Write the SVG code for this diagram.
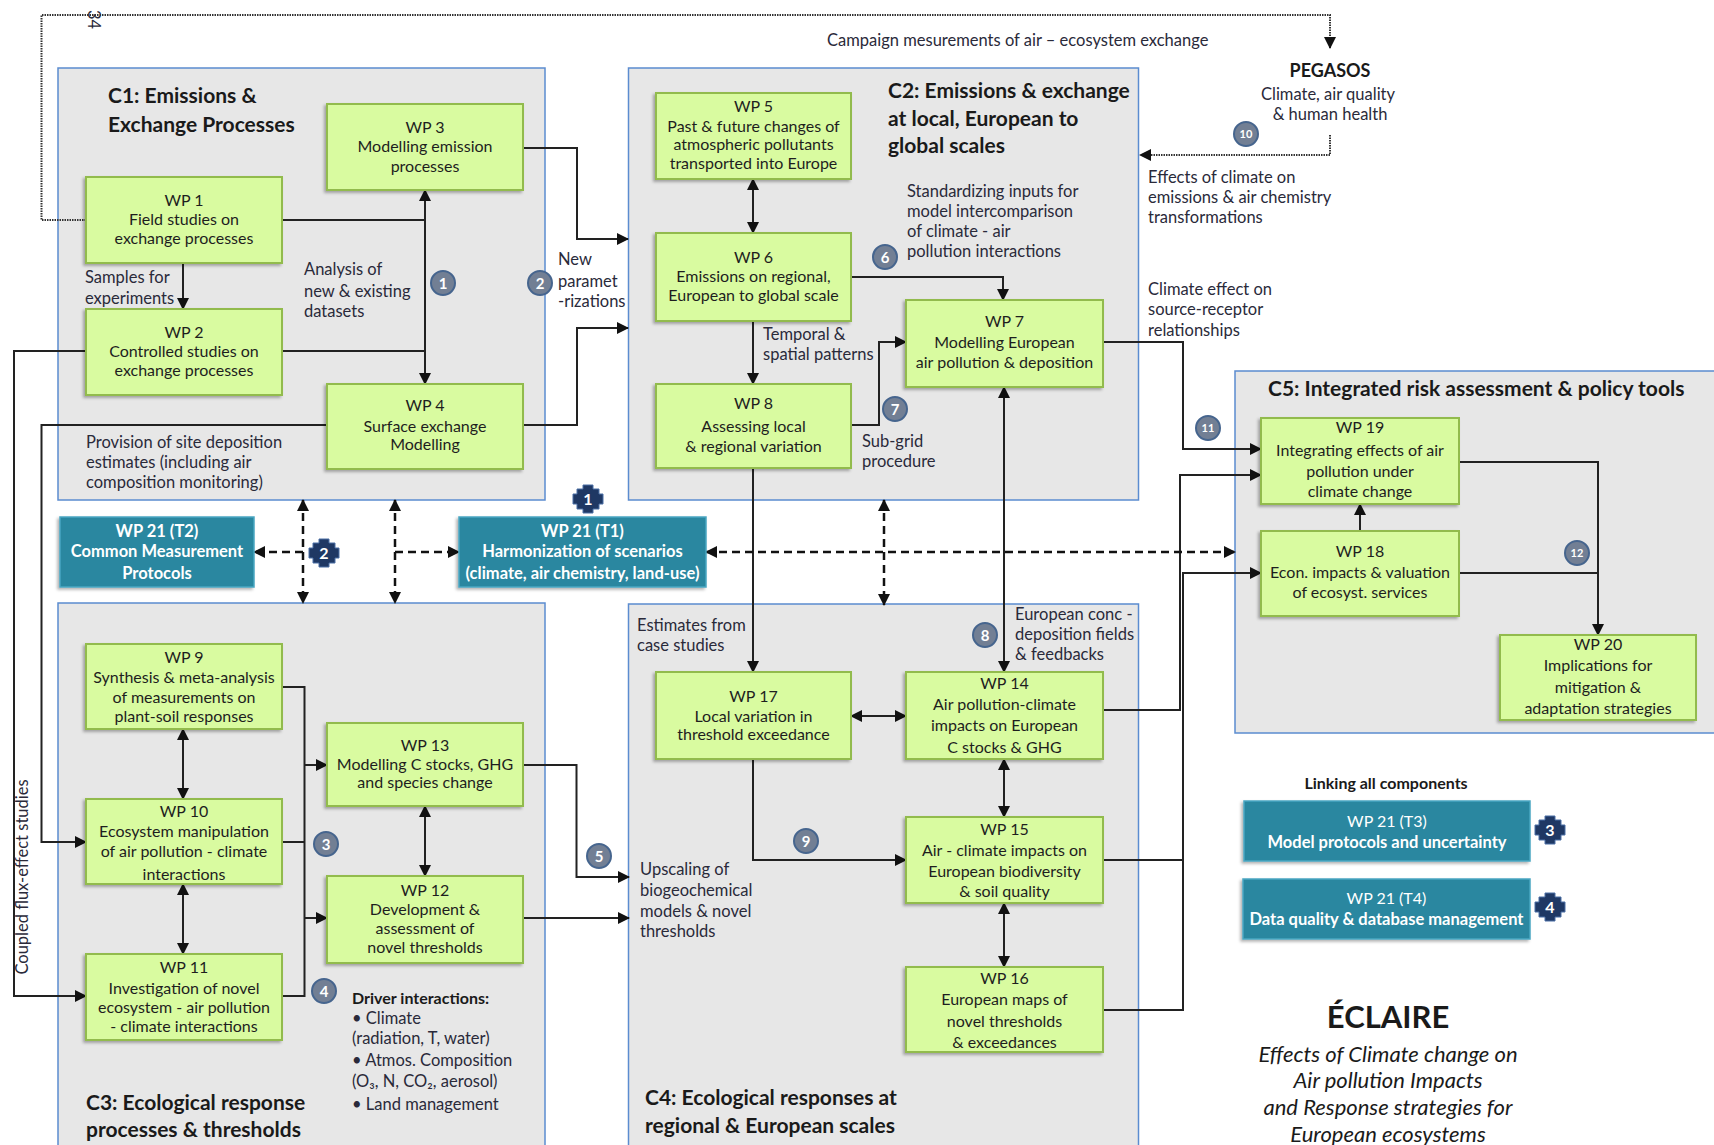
<svg xmlns="http://www.w3.org/2000/svg" width="1714" height="1145" viewBox="0 0 1714 1145">
<defs>
<style>
.cont{fill:#e7e7e7;stroke:#5b8cd0;stroke-width:1.5}
.wp{fill:#d9fba0;stroke:#92bb4e;stroke-width:2;filter:url(#sh)}
.t21{fill:#2a87a0;stroke:#49a7c2;stroke-width:1.5;filter:url(#sh)}
.nt{font-family:Lato,"Liberation Sans",sans-serif;font-size:16px;fill:#1e1e1e;text-anchor:middle}
.tt{font-family:Lato,"Liberation Sans",sans-serif;font-size:16.5px;fill:#fff;font-weight:bold;text-anchor:middle}
.ttr{font-family:Lato,"Liberation Sans",sans-serif;font-size:16px;fill:#fff;text-anchor:middle}
.lb{font-family:Lato,"Liberation Sans",sans-serif;font-size:16.5px;fill:#2a2a3a}
.ti{font-family:Lato,"Liberation Sans",sans-serif;font-size:21px;font-weight:bold;fill:#1a1a1a}
.bd{font-family:Lato,"Liberation Sans",sans-serif;font-weight:bold;fill:#1a1a1a}
.it{font-family:Lato,"Liberation Sans",sans-serif;font-size:22px;font-style:italic;fill:#1a1a1a;text-anchor:middle}
.ln{fill:none;stroke:#222;stroke-width:2}
.ae{marker-end:url(#ah)}
.ab{marker-end:url(#ah);marker-start:url(#ah)}
.dot{fill:none;stroke:#333;stroke-width:2;stroke-dasharray:1.5 1}
.dsh{fill:none;stroke:#111;stroke-width:2.5;stroke-dasharray:8 5}
.bc{fill:#727f94;stroke:#46658e;stroke-width:2}
.bn{font-family:Lato,"Liberation Sans",sans-serif;font-weight:bold;fill:#fff;text-anchor:middle}
</style>
<filter id="sh" x="-10%" y="-10%" width="120%" height="125%">
<feDropShadow dx="-2" dy="2" stdDeviation="1.5" flood-color="#000" flood-opacity="0.3"/>
</filter>
<marker id="ah" viewBox="0 0 12 12" refX="11" refY="6" markerWidth="12" markerHeight="12" markerUnits="userSpaceOnUse" orient="auto-start-reverse">
<path d="M0,0 L12,6 L0,12 z" fill="#111"/>
</marker>
<path id="pzl" d="M-11,-10 H-5 V-14 H5 V-10 H11 V-5 H15 V5 H11 V10 H5 V14 H-5 V10 H-11 V5 H-15 V-5 H-11 Z" fill="#1f3864" stroke="#4a6fa5" stroke-width="1" stroke-linejoin="round"/>
</defs>
<rect width="1714" height="1145" fill="#fff"/>

<!-- containers -->
<g id="C1"><rect class="cont" x="58" y="68" width="487" height="432"/>
<text class="ti" x="108" y="103">C1: Emissions &amp;</text>
<text class="ti" x="108" y="132">Exchange Processes</text></g>
<g id="C2"><rect class="cont" x="628.5" y="68" width="510" height="432"/>
<text class="ti" x="888" y="98">C2: Emissions &amp; exchange</text>
<text class="ti" x="888" y="126">at local, European  to</text>
<text class="ti" x="888" y="153">global scales</text></g>
<g id="C3"><rect class="cont" x="58" y="603" width="487" height="560"/>
<text class="ti" x="86" y="1110">C3: Ecological response</text>
<text class="ti" x="86" y="1137">processes &amp; thresholds</text></g>
<g id="C4"><rect class="cont" x="628.5" y="604" width="510" height="560"/>
<text class="ti" x="645" y="1105">C4: Ecological responses at</text>
<text class="ti" x="645" y="1133">regional  &amp; European  scales</text></g>
<g id="C5"><rect class="cont" x="1235" y="371" width="490" height="362"/>
<text class="ti" x="1268" y="396">C5: Integrated risk assessment &amp; policy tools</text></g>

<!-- connectors -->
<g id="connectors">
<path class="dot ae" d="M86 220 H41.5 V15 H1330 V48"/>
<path class="dot ae" d="M1330 135 V155 H1140"/>
<path class="ln ae" d="M183 263 V309"/>
<path class="ln" d="M282 220 H425 M282 351 H425"/>
<path class="ln ab" d="M425 190 V384"/>
<path class="ln ae" d="M523 148 H577 V239 H628"/>
<path class="ln ae" d="M523 425 H577 V328 H628"/>
<path class="ln ae" d="M86 351 H14 V996 H86"/>
<path class="ln ae" d="M327 425 H41.5 V842 H86"/>
<path class="ln ab" d="M753 179 V233"/>
<path class="ln ae" d="M753 321 V384"/>
<path class="ln ae" d="M851 277 H1003 V300"/>
<path class="ln ae" d="M851 425 H879 V342 H906"/>
<path class="ln ae" d="M753 468 V672"/>
<path class="ln ab" d="M1004 387 V672"/>
<path class="ln ae" d="M1103 342 H1183 V449 H1261"/>
<path class="ln ae" d="M1103 710 H1180 V475 H1261"/>
<path class="ln ae" d="M1103 1010 H1183 V573 H1261"/>
<path class="ln" d="M1103 860 H1183"/>
<path class="ln ae" d="M1360 531 V504"/>
<path class="ln ae" d="M1459 462 H1598 V635"/>
<path class="ln" d="M1459 573 H1598"/>
<path class="ln" d="M282 687 H304.5 V996 H282 M282 842 H304.5"/>
<path class="ln ae" d="M304.5 765 H327"/>
<path class="ln ae" d="M304.5 918 H327"/>
<path class="ln ab" d="M183 729 V799"/>
<path class="ln ab" d="M183 884 V954"/>
<path class="ln ab" d="M425 806 V876"/>
<path class="ln ae" d="M523 765 H576.5 V877 H629"/>
<path class="ln ae" d="M523 918 H629"/>
<path class="ln ab" d="M851 716 H906"/>
<path class="ln ab" d="M1004 759 V817"/>
<path class="ln ab" d="M1004 903 V967"/>
<path class="ln ae" d="M753 759 V860 H906"/>
<path class="dsh ab" d="M303 500 V603"/>
<path class="dsh ab" d="M395 500 V603"/>
<path class="dsh ab" d="M884 500 V605"/>
<path class="dsh ae" d="M303 552 H254"/>
<path class="dsh ae" d="M395 552 H459"/>
<path class="dsh ab" d="M706 552 H1235"/>
</g>

<!-- nodes -->
<g id="WP1"><rect class="wp" x="86" y="177" width="196" height="86"/>
<text class="nt" x="184" y="206">WP 1</text><text class="nt" x="184" y="225">Field studies on</text><text class="nt" x="184" y="244">exchange processes</text></g>
<g id="WP2"><rect class="wp" x="86" y="309" width="196" height="86"/>
<text class="nt" x="184" y="338">WP 2</text><text class="nt" x="184" y="357">Controlled studies on</text><text class="nt" x="184" y="376">exchange processes</text></g>
<g id="WP3"><rect class="wp" x="327" y="104" width="196" height="86"/>
<text class="nt" x="425" y="133">WP 3</text><text class="nt" x="425" y="152">Modelling emission</text><text class="nt" x="425" y="172">processes</text></g>
<g id="WP4"><rect class="wp" x="327" y="384" width="196" height="85"/>
<text class="nt" x="425" y="411">WP 4</text><text class="nt" x="425" y="432">Surface exchange</text><text class="nt" x="425" y="450">Modelling</text></g>
<g id="WP5"><rect class="wp" x="656" y="93" width="195" height="86"/>
<text class="nt" x="753.5" y="112">WP 5</text><text class="nt" x="753.5" y="132">Past &amp; future changes of</text><text class="nt" x="753.5" y="150">atmospheric pollutants</text><text class="nt" x="753.5" y="169">transported into Europe</text></g>
<g id="WP6"><rect class="wp" x="656" y="233" width="195" height="88"/>
<text class="nt" x="753.5" y="263">WP 6</text><text class="nt" x="753.5" y="282">Emissions on regional,</text><text class="nt" x="753.5" y="301">European to global  scale</text></g>
<g id="WP7"><rect class="wp" x="906" y="300" width="197" height="87"/>
<text class="nt" x="1004.5" y="327">WP 7</text><text class="nt" x="1004.5" y="348">Modelling European</text><text class="nt" x="1004.5" y="368">air pollution &amp; deposition</text></g>
<g id="WP8"><rect class="wp" x="656" y="384" width="195" height="84"/>
<text class="nt" x="753.5" y="409">WP 8</text><text class="nt" x="753.5" y="432">Assessing local</text><text class="nt" x="753.5" y="452">&amp; regional  variation</text></g>
<g id="WP9"><rect class="wp" x="86" y="644" width="196" height="85"/>
<text class="nt" x="184" y="663">WP 9</text><text class="nt" x="184" y="683">Synthesis &amp; meta-analysis</text><text class="nt" x="184" y="703">of measurements on</text><text class="nt" x="184" y="722">plant-soil responses</text></g>
<g id="WP10"><rect class="wp" x="86" y="799" width="196" height="85"/>
<text class="nt" x="184" y="817">WP 10</text><text class="nt" x="184" y="837">Ecosystem manipulation</text><text class="nt" x="184" y="857">of air pollution -  climate</text><text class="nt" x="184" y="880">interactions</text></g>
<g id="WP11"><rect class="wp" x="86" y="954" width="196" height="86"/>
<text class="nt" x="184" y="973">WP 11</text><text class="nt" x="184" y="994">Investigation of novel</text><text class="nt" x="184" y="1013">ecosystem - air pollution</text><text class="nt" x="184" y="1032">- climate interactions</text></g>
<g id="WP12"><rect class="wp" x="327" y="876" width="196" height="87"/>
<text class="nt" x="425" y="896">WP 12</text><text class="nt" x="425" y="915">Development &amp;</text><text class="nt" x="425" y="934">assessment of</text><text class="nt" x="425" y="953">novel thresholds</text></g>
<g id="WP13"><rect class="wp" x="327" y="723" width="196" height="83"/>
<text class="nt" x="425" y="751">WP 13</text><text class="nt" x="425" y="770">Modelling C stocks, GHG</text><text class="nt" x="425" y="788">and species change</text></g>
<g id="WP14"><rect class="wp" x="906" y="672" width="197" height="87"/>
<text class="nt" x="1004.5" y="689">WP 14</text><text class="nt" x="1004.5" y="710">Air pollution-climate</text><text class="nt" x="1004.5" y="731">impacts on European</text><text class="nt" x="1004.5" y="753">C  stocks  &amp; GHG</text></g>
<g id="WP15"><rect class="wp" x="906" y="817" width="197" height="86"/>
<text class="nt" x="1004.5" y="835">WP 15</text><text class="nt" x="1004.5" y="856">Air - climate  impacts  on</text><text class="nt" x="1004.5" y="877">European biodiversity</text><text class="nt" x="1004.5" y="897">&amp; soil quality</text></g>
<g id="WP16"><rect class="wp" x="906" y="967" width="197" height="85"/>
<text class="nt" x="1004.5" y="984">WP 16</text><text class="nt" x="1004.5" y="1005">European maps of</text><text class="nt" x="1004.5" y="1027">novel thresholds</text><text class="nt" x="1004.5" y="1048">&amp; exceedances</text></g>
<g id="WP17"><rect class="wp" x="656" y="672" width="195" height="87"/>
<text class="nt" x="753.5" y="702">WP 17</text><text class="nt" x="753.5" y="722">Local variation  in</text><text class="nt" x="753.5" y="740">threshold exceedance</text></g>
<g id="WP18"><rect class="wp" x="1261" y="531" width="198" height="85"/>
<text class="nt" x="1360" y="557">WP 18</text><text class="nt" x="1360" y="578">Econ. impacts  &amp; valuation</text><text class="nt" x="1360" y="598">of ecosyst. services</text></g>
<g id="WP19"><rect class="wp" x="1261" y="418" width="198" height="86"/>
<text class="nt" x="1360" y="433">WP 19</text><text class="nt" x="1360" y="456">Integrating effects of air</text><text class="nt" x="1360" y="477">pollution under</text><text class="nt" x="1360" y="497">climate change</text></g>
<g id="WP20"><rect class="wp" x="1500" y="635" width="196" height="85"/>
<text class="nt" x="1598" y="650">WP 20</text><text class="nt" x="1598" y="671">Implications for</text><text class="nt" x="1598" y="693">mitigation  &amp;</text><text class="nt" x="1598" y="714">adaptation  strategies</text></g>
<g id="T2"><rect class="t21" x="60" y="517" width="194" height="70"/>
<text class="tt" x="157" y="537">WP 21 (T2)</text><text class="tt" x="157" y="557">Common Measurement</text><text class="tt" x="157" y="579">Protocols</text></g>
<g id="T1"><rect class="t21" x="459" y="517" width="247" height="70"/>
<text class="tt" x="582.5" y="537">WP 21 (T1)</text><text class="tt" x="582.5" y="557">Harmonization  of scenarios</text><text class="tt" x="582.5" y="579">(climate, air  chemistry, land-use)</text></g>
<g id="T3"><rect class="t21" x="1244" y="801" width="286" height="60"/>
<text class="ttr" x="1387" y="827">WP 21 (T3)</text><text class="tt" x="1387" y="848">Model protocols and  uncertainty</text></g>
<g id="T4"><rect class="t21" x="1243" y="879" width="287" height="60"/>
<text class="ttr" x="1386.5" y="904">WP 21 (T4)</text><text class="tt" x="1386.5" y="925">Data quality  &amp; database  management</text></g>
<g id="PEGASOS">
<text class="bd" x="1330" y="77" font-size="18" text-anchor="middle">PEGASOS</text>
<text class="lb" x="1328" y="100" text-anchor="middle">Climate, air quality</text>
<text class="lb" x="1330" y="120" text-anchor="middle">&amp; human health</text></g>

<!-- badges -->
<g id="badges">
<circle class="bc" cx="443" cy="283" r="12"/><text class="bn" x="443" y="288.5" font-size="15">1</text>
<circle class="bc" cx="540" cy="283" r="12"/><text class="bn" x="540" y="288.5" font-size="15">2</text>
<circle class="bc" cx="326" cy="844" r="12"/><text class="bn" x="326" y="849.5" font-size="15">3</text>
<circle class="bc" cx="324" cy="991" r="12"/><text class="bn" x="324" y="996.5" font-size="15">4</text>
<circle class="bc" cx="599" cy="856" r="12"/><text class="bn" x="599" y="861.5" font-size="15">5</text>
<circle class="bc" cx="885" cy="257" r="12"/><text class="bn" x="885" y="262.5" font-size="15">6</text>
<circle class="bc" cx="895" cy="409" r="12"/><text class="bn" x="895" y="414.5" font-size="15">7</text>
<circle class="bc" cx="985" cy="635" r="12"/><text class="bn" x="985" y="640.5" font-size="15">8</text>
<circle class="bc" cx="806" cy="841" r="12"/><text class="bn" x="806" y="846.5" font-size="15">9</text>
<circle class="bc" cx="1246" cy="134" r="12"/><text class="bn" x="1246" y="138" font-size="11">10</text>
<circle class="bc" cx="1208" cy="428" r="12"/><text class="bn" x="1208" y="432" font-size="11">11</text>
<circle class="bc" cx="1577" cy="553" r="12"/><text class="bn" x="1577" y="557" font-size="11">12</text>
<use href="#pzl" x="588" y="499"/><text class="bn" x="588" y="505" font-size="16">1</text>
<use href="#pzl" x="324" y="553"/><text class="bn" x="324" y="559" font-size="16">2</text>
<use href="#pzl" x="1550" y="830"/><text class="bn" x="1550" y="836" font-size="16">3</text>
<use href="#pzl" x="1550" y="907"/><text class="bn" x="1550" y="913" font-size="16">4</text>
</g>

<!-- labels -->
<g id="labels">
<text class="lb" x="0" y="0" font-size="11" transform="translate(88,10) rotate(90)">34</text>
<text class="lb" x="827" y="46">Campaign  mesurements of air – ecosystem exchange</text>
<text class="lb" x="85" y="283">Samples for</text>
<text class="lb" x="85" y="304">experiments</text>
<text class="lb" x="304" y="275">Analysis of</text>
<text class="lb" x="304" y="297">new &amp; existing</text>
<text class="lb" x="304" y="317">datasets</text>
<text class="lb" x="558" y="265">New</text>
<text class="lb" x="558" y="287">paramet</text>
<text class="lb" x="558" y="307">-rizations</text>
<text class="lb" x="86" y="448">Provision of site deposition</text>
<text class="lb" x="86" y="468">estimates (including air</text>
<text class="lb" x="86" y="488">composition monitoring)</text>
<text class="lb" x="907" y="197">Standardizing inputs for</text>
<text class="lb" x="907" y="217">model intercomparison</text>
<text class="lb" x="907" y="237">of climate - air</text>
<text class="lb" x="907" y="257">pollution interactions</text>
<text class="lb" x="763" y="340">Temporal &amp;</text>
<text class="lb" x="763" y="360">spatial patterns</text>
<text class="lb" x="862" y="447">Sub-grid</text>
<text class="lb" x="862" y="467">procedure</text>
<text class="lb" x="1148" y="183">Effects of climate  on</text>
<text class="lb" x="1148" y="203">emissions &amp; air chemistry</text>
<text class="lb" x="1148" y="223">transformations</text>
<text class="lb" x="1148" y="295">Climate effect on</text>
<text class="lb" x="1148" y="315">source-receptor</text>
<text class="lb" x="1148" y="336">relationships</text>
<text class="lb" x="637" y="631">Estimates from</text>
<text class="lb" x="637" y="651">case studies</text>
<text class="lb" x="1015" y="620">European conc -</text>
<text class="lb" x="1015" y="640">deposition fields</text>
<text class="lb" x="1015" y="660">&amp; feedbacks</text>
<text class="lb" x="640" y="875">Upscaling of</text>
<text class="lb" x="640" y="896">biogeochemical</text>
<text class="lb" x="640" y="917">models &amp; novel</text>
<text class="lb" x="640" y="937">thresholds</text>
<text class="bd" x="352" y="1004" font-size="16">Driver interactions:</text>
<text class="lb" x="352" y="1024">• Climate</text>
<text class="lb" x="352" y="1044">(radiation, T, water)</text>
<text class="lb" x="352" y="1066">• Atmos. Composition</text>
<text class="lb" x="352" y="1087">(O₃, N, CO₂, aerosol)</text>
<text class="lb" x="352" y="1110">• Land management</text>
<text class="lb" x="0" y="0" font-size="17" transform="translate(28,877) rotate(-90)" text-anchor="middle">Coupled  flux-effect  studies</text>
<text class="bd" x="1386" y="789" font-size="16" text-anchor="middle">Linking all  components</text>
<text class="bd" x="1388" y="1028" font-size="31" text-anchor="middle">ÉCLAIRE</text>
<text class="it" x="1388" y="1062">Effects of Climate change on</text>
<text class="it" x="1388" y="1088">Air pollution Impacts</text>
<text class="it" x="1388" y="1115">and Response strategies for</text>
<text class="it" x="1388" y="1142">European ecosystems</text>
</g>
</svg>
